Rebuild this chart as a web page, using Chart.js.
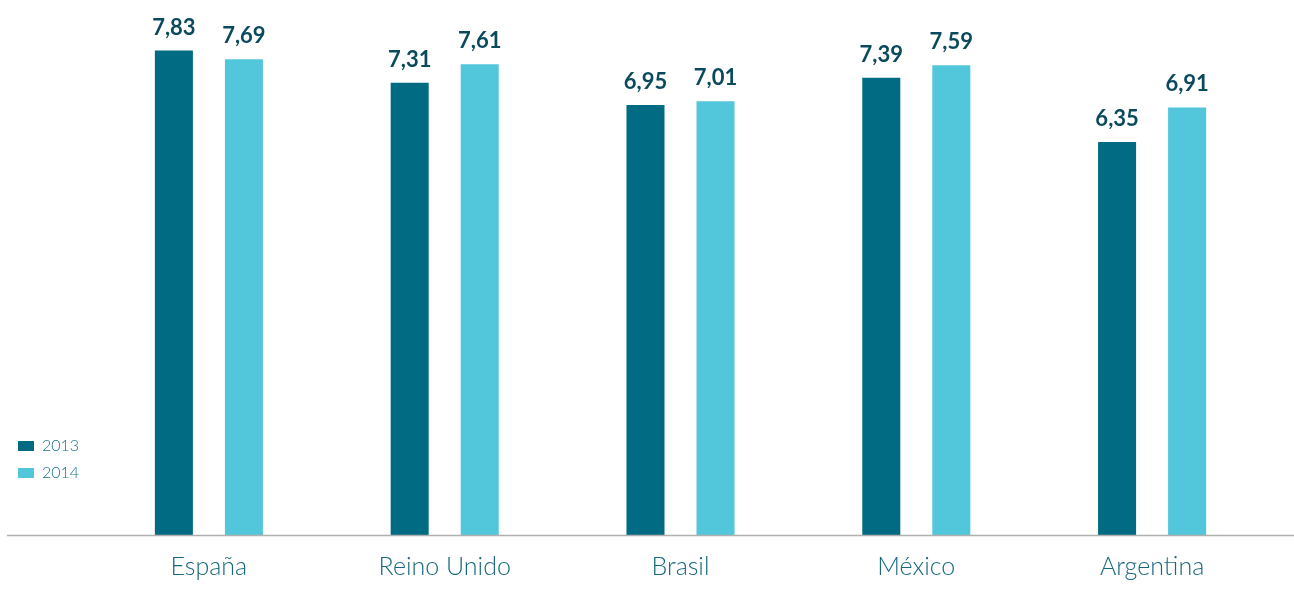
<!DOCTYPE html>
<html>
<head>
<meta charset="utf-8">
<style>
  html, body { margin: 0; padding: 0; background: #fff; }
  #wrap { width: 1294px; height: 611px; }
</style>
<script src="https://cdn.jsdelivr.net/npm/chart.js@4"></script>
</head>
<body>
<div id="wrap"><canvas id="chart" width="1294" height="611"></canvas></div>
<script>
const countries = ["España", "Reino Unido", "Brasil", "México", "Argentina"];
const years = ["2013", "2014"];
const values2013 = [7.83, 7.31, 6.95, 7.39, 6.35];
const values2014 = [7.69, 7.61, 7.01, 7.59, 6.91];
const colors = ["#006b82", "#52c6da"];

// numbers above each bar, with a decimal comma
const valueLabels = {
  id: "valueLabels",
  afterDatasetsDraw(chart) {
    const ctx = chart.ctx;
    ctx.save();
    ctx.font = "700 22px Lato, 'Open Sans', sans-serif";
    ctx.fillStyle = "#0b4a5d";
    ctx.textAlign = "center";
    ctx.textBaseline = "alphabetic";
    chart.data.datasets.forEach((ds, i) => {
      chart.getDatasetMeta(i).data.forEach((bar, j) => {
        ctx.fillText(ds.data[j].toFixed(2).replace(".", ","), bar.x, bar.y - 16);
      });
    });
    ctx.restore();
  }
};

// gray base line across the whole width
const baseLine = {
  id: "baseLine",
  afterDatasetsDraw(chart) {
    const ctx = chart.ctx;
    const y = chart.scales.y.getPixelForValue(0);
    ctx.save();
    ctx.strokeStyle = "#b0b0b0";
    ctx.lineWidth = 1.5;
    ctx.beginPath();
    ctx.moveTo(7, y + 0.5);
    ctx.lineTo(chart.width, y + 0.5);
    ctx.stroke();
    ctx.restore();
  }
};

// small legend at the lower left
const sideLegend = {
  id: "sideLegend",
  afterDraw(chart) {
    const ctx = chart.ctx;
    ctx.save();
    ctx.font = "300 16px Lato, 'Open Sans', sans-serif";
    ctx.textBaseline = "middle";
    chart.data.datasets.forEach((ds, i) => {
      const y = 446 + i * 27;
      ctx.fillStyle = ds.backgroundColor;
      ctx.fillRect(18, y - 5, 16, 10);
      ctx.fillStyle = "#1a7389";
      ctx.fillText(ds.label, 42, y);
    });
    ctx.restore();
  }
};

new Chart(document.getElementById("chart"), {
  type: "bar",
  data: {
    labels: countries,
    datasets: [
      { label: years[0], data: values2013, backgroundColor: colors[0] },
      { label: years[1], data: values2014, backgroundColor: colors[1] }
    ]
  },
  options: {
    responsive: false,
    animation: false,
    layout: { padding: { left: 91, right: 24, top: 40, bottom: 12 } },
    datasets: {
      bar: { categoryPercentage: 0.594, barPercentage: 0.543 }
    },
    plugins: {
      legend: { display: false },
      tooltip: { enabled: false }
    },
    scales: {
      x: {
        grid: { display: false, drawTicks: false },
        border: { display: false },
        ticks: {
          padding: 17,
          color: "#17687e",
          font: { family: "Lato, 'Open Sans', sans-serif", size: 25, weight: 300 }
        }
      },
      y: {
        display: false,
        min: 0,
        max: 8
      }
    }
  },
  plugins: [valueLabels, baseLine, sideLegend]
});
</script>
</body>
</html>
